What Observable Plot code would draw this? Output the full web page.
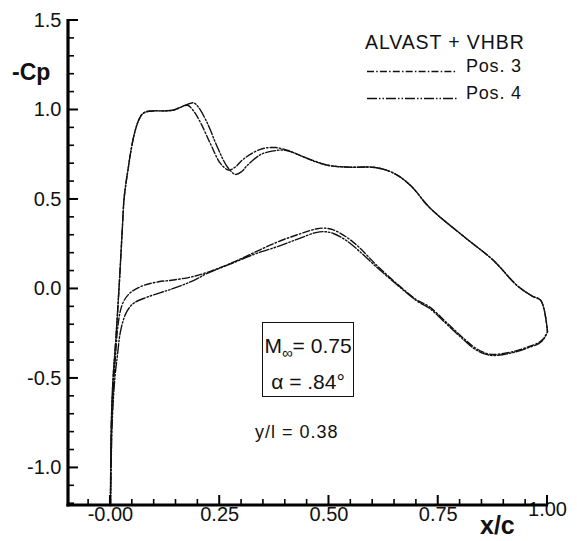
<!DOCTYPE html>
<html><head><meta charset="utf-8">
<script src="https://cdn.jsdelivr.net/npm/d3@7"></script>
<script src="https://cdn.jsdelivr.net/npm/@observablehq/plot@0.6"></script>
<style>
body{margin:0;background:#fff;font-family:"Liberation Sans",Arial,Helvetica,sans-serif;color:#111;}
#wrap{position:relative;width:577px;height:541px;overflow:hidden;}
.ov{position:absolute;white-space:nowrap;line-height:1;}
</style></head><body><div id="wrap"></div>
<script>
// ---- data (x/c, -Cp) ----
const pos3UpperX  = [0.000,0.002,0.006,0.011,0.015,0.019,0.023,0.027,0.031,0.036,0.041,0.046,0.055,0.064,0.072,0.082,0.100,0.125,0.145,0.160,0.170,0.178,0.190,0.206,0.229,0.252,0.270,0.285,0.304,0.343,0.378,0.410,0.450,0.500,0.550,0.600,0.630,0.660,0.690,0.730,0.810,0.876,0.930,0.965,0.985,1.000];
const pos3UpperCp = [-1.21,-0.75,-0.50,-0.33,-0.18,-0.02,0.15,0.33,0.50,0.60,0.68,0.76,0.87,0.94,0.975,0.99,0.995,0.995,1.000,1.015,1.025,1.025,0.995,0.930,0.810,0.700,0.665,0.680,0.725,0.780,0.790,0.770,0.730,0.690,0.680,0.680,0.665,0.630,0.570,0.455,0.290,0.160,0.020,-0.040,-0.065,-0.240];
const pos4UpperX  = [0.000,0.002,0.006,0.011,0.015,0.019,0.023,0.027,0.031,0.036,0.041,0.046,0.055,0.064,0.072,0.082,0.100,0.125,0.145,0.165,0.180,0.190,0.200,0.222,0.245,0.268,0.286,0.300,0.313,0.343,0.370,0.400,0.430,0.470,0.500,0.550,0.600,0.630,0.660,0.690,0.730,0.810,0.876,0.930,0.965,0.985,1.000];
const pos4UpperCp = [-1.21,-0.75,-0.50,-0.33,-0.18,-0.02,0.15,0.33,0.50,0.60,0.68,0.76,0.87,0.94,0.975,0.99,0.995,0.995,1.000,1.020,1.035,1.040,1.020,0.925,0.790,0.680,0.640,0.655,0.690,0.750,0.770,0.775,0.750,0.710,0.690,0.680,0.680,0.665,0.630,0.570,0.455,0.290,0.160,0.020,-0.040,-0.065,-0.240];
const pos3LowerX  = [0.000,0.003,0.008,0.012,0.016,0.022,0.030,0.046,0.076,0.110,0.144,0.190,0.230,0.280,0.330,0.380,0.430,0.470,0.490,0.510,0.540,0.570,0.610,0.655,0.700,0.730,0.770,0.810,0.835,0.860,0.876,0.900,0.930,0.960,0.980,0.990,1.000];
const pos3LowerCp = [-1.21,-0.75,-0.50,-0.36,-0.23,-0.13,-0.07,-0.02,0.020,0.040,0.050,0.070,0.100,0.148,0.205,0.260,0.305,0.335,0.340,0.330,0.290,0.230,0.130,0.030,-0.060,-0.100,-0.190,-0.280,-0.330,-0.360,-0.366,-0.360,-0.345,-0.320,-0.300,-0.280,-0.240];
const pos4LowerX  = [0.000,0.004,0.010,0.016,0.022,0.030,0.039,0.053,0.085,0.144,0.190,0.220,0.280,0.330,0.380,0.430,0.470,0.490,0.510,0.540,0.570,0.610,0.655,0.700,0.730,0.770,0.810,0.835,0.860,0.876,0.900,0.930,0.960,0.980,0.990,1.000];
const pos4LowerCp = [-1.21,-0.75,-0.50,-0.37,-0.25,-0.17,-0.12,-0.08,-0.045,0.003,0.047,0.085,0.145,0.195,0.235,0.280,0.315,0.320,0.310,0.270,0.210,0.120,0.025,-0.065,-0.108,-0.198,-0.288,-0.338,-0.366,-0.372,-0.366,-0.350,-0.325,-0.305,-0.285,-0.240];

const yMajor = [-1.0,-0.5,0.0,0.5,1.0,1.5];
const yMinor = [-1.2,-1.1,-0.9,-0.8,-0.7,-0.6,-0.4,-0.3,-0.2,-0.1,0.1,0.2,0.3,0.4,0.6,0.7,0.8,0.9,1.1,1.2,1.3,1.4];
const yLabels = ["-1.0","-0.5","0.0","0.5","1.0","1.5"];
const xMajor = [0,0.25,0.5,0.75,1.0];
const xMinor = [-0.05,0.05,0.1,0.15,0.2,0.3,0.35,0.4,0.45,0.55,0.6,0.65,0.7,0.8,0.85,0.9,0.95];
const xLabels = ["-0.00","0.25","0.50","0.75","1.00"];

const series = [];
const add = (xs, ys, key) => xs.forEach((x, i) => series.push({x, cp: ys[i], key}));
add(pos3UpperX, pos3UpperCp, "p3u"); add(pos3LowerX, pos3LowerCp, "p3l");
add(pos4UpperX, pos4UpperCp, "p4u"); add(pos4LowerX, pos4LowerCp, "p4l");
const p3 = series.filter(d => d.key.startsWith("p3"));
const p4 = series.filter(d => d.key.startsWith("p4"));

const dash3 = "7,2.2,1.5,2.2";
const dash4 = "10,2,1.5,2,1.5,2";
const xLo = -0.096, yLo = -1.21;
const W = 577, H = 541, mL = 68, mR = 30, mT = 20, mB = 36;

// axis lines + inward ticks, placed through the plot's own scales
const axesMark = (index, scales) => {
  const sx = scales && scales.x ? scales.x : d3.scaleLinear([xLo, 1], [mL, W - mR]);
  const sy = scales && scales.y ? scales.y : d3.scaleLinear([yLo, 1.5], [H - mB, mT]);
  const g = d3.create("svg:g").attr("stroke", "#000").attr("fill", "none");
  const x0 = sx(xLo), y0 = sy(yLo);
  const tick = (x1, y1, x2, y2, w) => g.append("line").attr("x1", x1).attr("y1", y1).attr("x2", x2).attr("y2", y2).attr("stroke-width", w);
  yMajor.forEach(v => tick(x0, sy(v), x0 + 10, sy(v), 2));
  yMinor.forEach(v => tick(x0, sy(v), x0 + 6, sy(v), 1.6));
  xMajor.forEach(v => tick(sx(v), y0, sx(v), y0 - 10, 2));
  xMinor.forEach(v => tick(sx(v), y0, sx(v), y0 - 6, 1.6));
  tick(x0, sy(1.5) - 1, x0, y0 + 1.5, 3.2);
  tick(x0 - 1.5, y0, sx(1.0) + 1, y0, 3.2);
  return g.node();
};

// legend sample lines (pixel placement is styling only)
const legendLines = () => {
  const g = d3.create("svg:g").attr("stroke", "#111").attr("stroke-width", 1.4);
  g.append("line").attr("x1", 367).attr("x2", 457).attr("y1", 71.5).attr("y2", 71.5).attr("stroke-dasharray", dash3);
  g.append("line").attr("x1", 367).attr("x2", 457).attr("y1", 98.5).attr("y2", 98.5).attr("stroke-dasharray", dash4);
  return g.node();
};

const chart = Plot.plot({
  width: W, height: H,
  marginLeft: mL, marginRight: mR, marginTop: mT, marginBottom: mB,
  style: {fontFamily: '"Liberation Sans", Arial, Helvetica, sans-serif', fontSize: "20px", color: "#111", background: "#fff"},
  x: {domain: [xLo, 1.0], axis: null},
  y: {domain: [yLo, 1.5], axis: null},
  marks: [
    Plot.line(p3, {x: "x", y: "cp", z: "key", stroke: "#111", strokeWidth: 1.4, strokeDasharray: dash3, curve: "catmull-rom"}),
    Plot.line(p4, {x: "x", y: "cp", z: "key", stroke: "#111", strokeWidth: 1.4, strokeDasharray: dash4, curve: "catmull-rom"}),
    Plot.axisY(yMajor, {tickSize: 0, tickPadding: 7, tickFormat: (d, i) => yLabels[i], label: null}),
    Plot.axisX(xMajor.slice(0, 4), {tickSize: 0, tickPadding: 1, tickFormat: (d, i) => xLabels[i], label: null}),
    Plot.text(xMajor.slice(4), {x: d => d, text: () => xLabels[4], frameAnchor: "bottom", lineAnchor: "middle", dy: 4, fontSize: 20}),
    legendLines,
    axesMark
  ]
});
const wrap = document.getElementById("wrap");
wrap.appendChild(chart);

const ov = document.createElement("div");
ov.innerHTML = `
 <div class="ov" style="left:12px;top:61px;font-size:23px;font-weight:bold;">-Cp</div>
 <div class="ov" style="left:480px;top:513px;font-size:25px;font-weight:bold;">x/c</div>
 <div class="ov" style="left:365px;top:33px;font-size:19.5px;letter-spacing:0.9px;">ALVAST + VHBR</div>
 <div class="ov" style="left:466px;top:57px;font-size:18px;letter-spacing:0.8px;">Pos. 3</div>
 <div class="ov" style="left:466px;top:84px;font-size:18px;letter-spacing:0.8px;">Pos. 4</div>
 <div class="ov" style="left:262px;top:322px;width:90px;height:73px;border:1.5px solid #111;font-size:21px;text-align:center;">
   <div style="margin-top:12px;">M<sub style="font-size:15px;vertical-align:-5px;">∞</sub>= 0.75</div>
   <div style="margin-top:11px;">α = .84°</div>
 </div>
 <div class="ov" style="left:255px;top:423px;font-size:18px;letter-spacing:1px;">y/l = 0.38</div>
`;
wrap.appendChild(ov);
</script></body></html>
